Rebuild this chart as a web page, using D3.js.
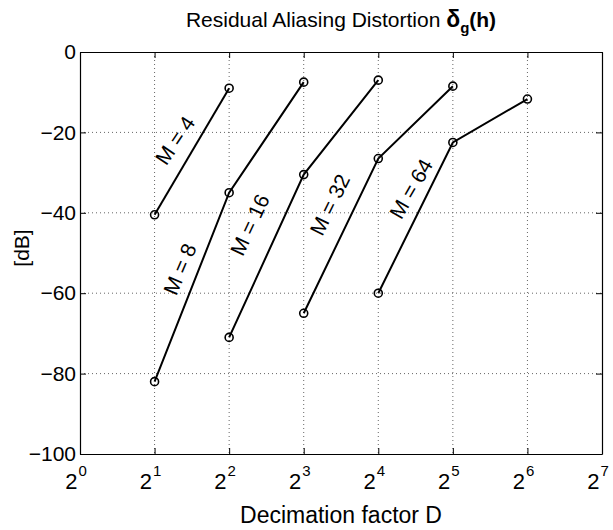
<!DOCTYPE html>
<html>
<head>
<meta charset="utf-8">
<script src="https://cdn.jsdelivr.net/npm/d3@7"></script>
<style>
  body { margin: 0; background: #fff; }
  text { font-family: "Liberation Sans", Arial, Helvetica, sans-serif; fill: #000; }
</style>
</head>
<body>
<div class="chart_container"></div>
<script>
// decimation factor D for each curve, dB values
const seriesM = [4, 8, 16, 32, 64];
const seriesD = [
  [2, 4],
  [2, 4, 8],
  [4, 8, 16],
  [8, 16, 32],
  [16, 32, 64],
];
const seriesDb = [
  [-40.5, -9],
  [-82, -35, -7.5],
  [-71, -30.5, -7],
  [-65, -26.5, -8.5],
  [-60, -22.5, -11.7],
];
// label anchor (in data space) and angle for each "M = .." text
const labelD = [2.42, 2.53, 4.85, 10.2, 21.7];
const labelDb = [-22, -54, -43, -38, -34];
const labelAngle = [-56, -67, -65, -64, -60];

const xPowers = [0, 1, 2, 3, 4, 5, 6, 7];
const yTicks = [0, -20, -40, -60, -80, -100];

const width = 613, height = 530;
const margin = { top: 52, right: 11, bottom: 76, left: 80 };
const plotW = width - margin.left - margin.right;
const plotH = height - margin.top - margin.bottom;

function drawChart() {
  const container = document.querySelector('div.chart_container');
  container.innerHTML = `<svg id="svgCont" width=${width} height=${height}></svg>`;
  const svg = d3.select(container).select('#svgCont');

  const xScale = d3.scaleLog().base(2)
    .domain([1, 128])
    .range([0, plotW]);
  const yScale = d3.scaleLinear()
    .domain([-100, 0])
    .range([plotH, 0]);

  const g = svg.append('g')
    .attr('transform', `translate(${margin.left},${margin.top})`);

  const xTickVals = xPowers.map(p => Math.pow(2, p));

  // dotted grid
  g.append('g').selectAll('line.vgrid')
    .data(xTickVals.slice(1, -1)).enter().append('line')
    .attr('x1', d => xScale(d)).attr('x2', d => xScale(d))
    .attr('y1', 0).attr('y2', plotH)
    .attr('stroke', '#666').attr('stroke-width', 1)
    .attr('stroke-dasharray', '1,3');
  g.append('g').selectAll('line.hgrid')
    .data(yTicks.slice(1, -1)).enter().append('line')
    .attr('x1', 0).attr('x2', plotW)
    .attr('y1', d => yScale(d)).attr('y2', d => yScale(d))
    .attr('stroke', '#666').attr('stroke-width', 1)
    .attr('stroke-dasharray', '1,3');

  // axes, ticks pointing inward
  const styleAxis = sel => {
    sel.select('.domain').attr('stroke', '#000').attr('stroke-width', 1.2);
    sel.selectAll('.tick line').attr('stroke', '#000');
  };
  g.append('g').attr('transform', `translate(0,${plotH})`)
    .call(d3.axisBottom(xScale).tickValues(xTickVals).tickSize(-6).tickSizeOuter(0).tickFormat(''))
    .call(styleAxis);
  g.append('g')
    .call(d3.axisTop(xScale).tickValues(xTickVals).tickSize(-6).tickSizeOuter(0).tickFormat(''))
    .call(styleAxis);
  const yAxis = g.append('g')
    .call(d3.axisLeft(yScale).tickValues(yTicks).tickSize(-6).tickSizeOuter(0).tickPadding(4))
    .call(styleAxis);
  yAxis.selectAll('.tick text')
    .attr('font-size', 21)
    .attr('font-family', '"Liberation Sans", Arial, sans-serif')
    .attr('fill', '#000');
  g.append('g').attr('transform', `translate(${plotW},0)`)
    .call(d3.axisRight(yScale).tickValues(yTicks).tickSize(-6).tickSizeOuter(0).tickFormat(''))
    .call(styleAxis);

  // x tick labels 2^p
  const xl = g.append('g').selectAll('text.xt')
    .data(xPowers).enter().append('text')
    .attr('x', d => xScale(Math.pow(2, d)) - 4)
    .attr('y', plotH + 35)
    .attr('text-anchor', 'middle')
    .attr('font-size', 22);
  xl.append('tspan').text('2');
  xl.append('tspan').attr('dy', -13).attr('dx', 1).attr('font-size', 15).text(d => d);

  // curves
  const line = d3.line()
    .x(d => xScale(d[0]))
    .y(d => yScale(d[1]));
  const curves = seriesM.map((m, i) => seriesD[i].map((d, j) => [d, seriesDb[i][j]]));

  g.append('g').selectAll('path')
    .data(curves).enter().append('path')
    .attr('d', line)
    .attr('fill', 'none')
    .attr('stroke', '#000')
    .attr('stroke-width', 2);

  g.append('g').selectAll('circle')
    .data(curves.flat()).enter().append('circle')
    .attr('cx', d => xScale(d[0]))
    .attr('cy', d => yScale(d[1]))
    .attr('r', 4)
    .attr('fill', 'none')
    .attr('stroke', '#000')
    .attr('stroke-width', 1.6);

  // M labels
  g.append('g').selectAll('text.lab')
    .data(seriesM).enter().append('text')
    .attr('transform', (d, i) => `translate(${xScale(labelD[i])},${yScale(labelDb[i])}) rotate(${labelAngle[i]})`)
    .attr('text-anchor', 'middle')
    .attr('dy', '0.35em')
    .attr('font-size', 21)
    .text(d => `M = ${d}`);

  // title
  const title = svg.append('text')
    .attr('x', margin.left + plotW / 2)
    .attr('y', 27)
    .attr('text-anchor', 'middle')
    .attr('font-size', 21);
  title.append('tspan').text('Residual Aliasing Distortion  ');
  title.append('tspan').attr('font-weight', 'bold').attr('font-size', 23).text('δ');
  title.append('tspan').attr('font-weight', 'bold').attr('font-size', 15).attr('dy', 6).text('g');
  title.append('tspan').attr('font-weight', 'bold').attr('dy', -6).text('(h)');

  // axis labels
  svg.append('text')
    .attr('x', margin.left + plotW / 2)
    .attr('y', 523)
    .attr('text-anchor', 'middle')
    .attr('font-size', 23)
    .text('Decimation factor D');
  svg.append('text')
    .attr('transform', `translate(29,${margin.top + plotH / 2 - 5}) rotate(-90)`)
    .attr('text-anchor', 'middle')
    .attr('font-size', 21)
    .text('[dB]');
}

drawChart();
</script>
</body>
</html>
